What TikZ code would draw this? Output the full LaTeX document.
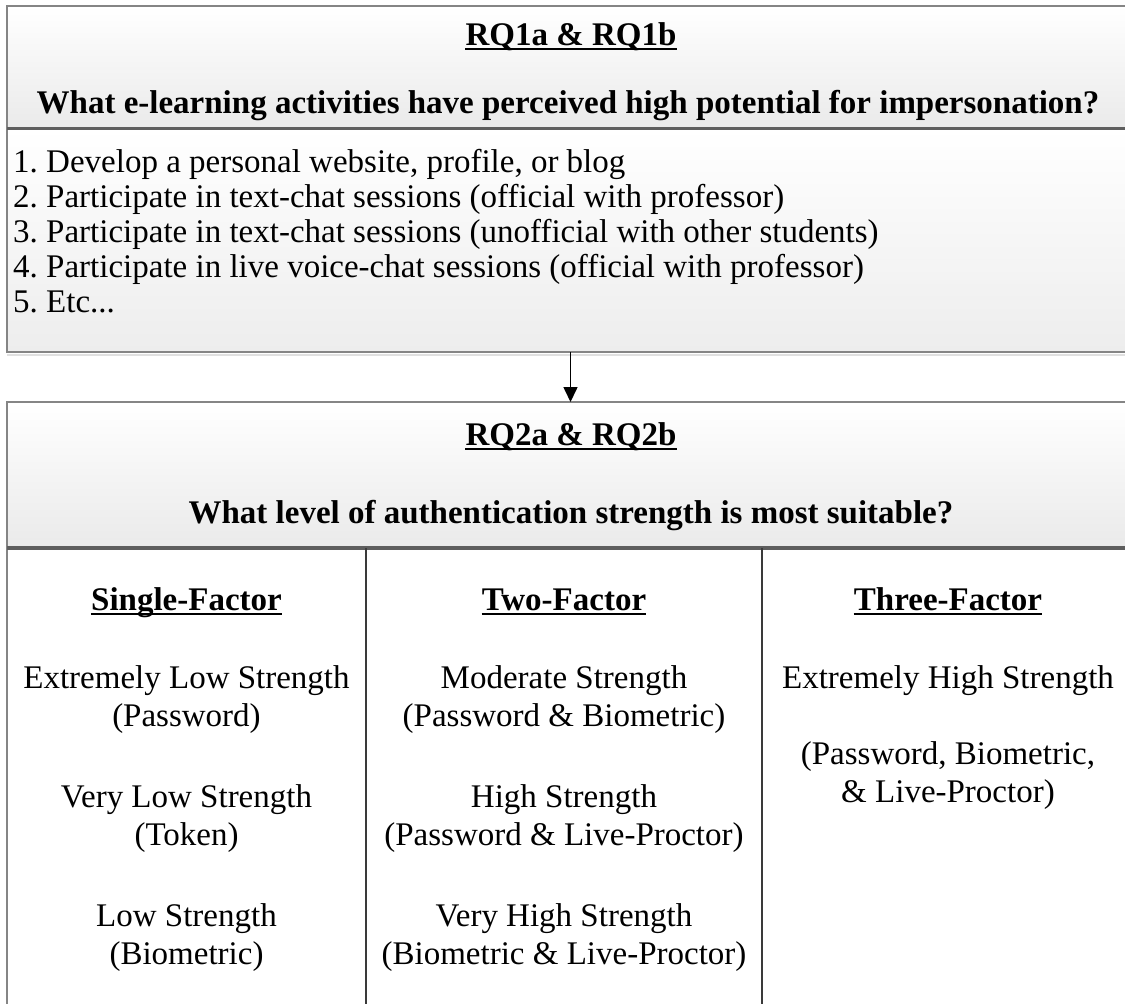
\documentclass[tikz,border=0pt]{standalone}
\usepackage{fontspec}
\setmainfont{Liberation Serif}
\usetikzlibrary{arrows.meta}
\frenchspacing
\definecolor{edge}{HTML}{858585}
\definecolor{sep}{HTML}{5E5E5E}
\definecolor{divider}{HTML}{3A3A3A}
\definecolor{hdrbot}{HTML}{EAEAEA}
\definecolor{listbot}{HTML}{EDEDED}
\tikzset{
  txt/.style={inner sep=0pt, anchor=base, font=\fontsize{33}{36}\selectfont},
  ttl/.style={txt, font=\fontsize{33}{36}\selectfont\bfseries},
  lst/.style={txt, anchor=base west},
  panel/.style={anchor=north west, inner sep=0pt, outer sep=0pt},
  frame/.style={draw=edge, line width=2.2pt},
  sepline/.style={draw=sep, line width=3pt},
  colline/.style={draw=divider, line width=2pt},
  uline/.style={line width=2pt},
  flow/.style={-{Triangle[length=15pt,width=14pt]}, line width=1.6pt},
}
\newcommand{\ulnode}[1]{\draw[uline] ([yshift=-4pt]#1.base west) -- ([yshift=-4pt]#1.base east);}
\begin{document}
\begin{tikzpicture}[x=1pt,y=-1pt]
\useasboundingbox (0,0) rectangle (1125,1004);
\clip (0,0) rectangle (1125,1004);
% ---------- top box ----------
\node[panel, top color=white, bottom color=hdrbot, minimum width=1127pt, minimum height=122pt] (hdr1) at (7,6) {};
\node[panel, top color=white, bottom color=listbot, minimum width=1127pt, minimum height=224pt] (lst1) at (7,128) {};
\node[panel, frame, minimum width=1127pt, minimum height=346pt] (box1) at (7,6) {};
\draw[sepline] (hdr1.south west) -- (hdr1.south east);
\draw[black!12, line width=2pt] ([yshift=-3pt]box1.south west) -- ([yshift=-3pt]box1.south east);
\node[ttl] (t1) at (571,45) {RQ1a \& RQ1b};
\ulnode{t1}
\node[ttl] (q1) at (568,113) {What e-learning activities have perceived high potential for impersonation?};
\node[lst] (l1) at (13,172) {1. Develop a personal website, profile, or blog};
\node[lst] (l2) at (13,207) {2. Participate in text-chat sessions (official with professor)};
\node[lst] (l3) at (13,242) {3. Participate in text-chat sessions (unofficial with other students)};
\node[lst] (l4) at (13,277) {4. Participate in live voice-chat sessions (official with professor)};
\node[lst] (l5) at (13,312) {5. Etc...};
% ---------- bottom box ----------
\node[panel, top color=white, bottom color=hdrbot, minimum width=1127pt, minimum height=146pt] (hdr2) at (7,402) {};
\node[panel, fill=white, minimum width=1127pt, minimum height=470pt] (body2) at (7,548) {};
\node[panel, frame, minimum width=1127pt, minimum height=620pt] (box2) at (7,402) {};
\draw[sepline, line width=4pt] (hdr2.south west) -- (hdr2.south east);
\coordinate (d1) at (366,548);
\coordinate (d2) at (762,548);
\draw[colline] (d1) -- (366,1010);
\draw[colline] (d2) -- (762,1010);
\node[ttl] (t2) at (571,445) {RQ2a \& RQ2b};
\ulnode{t2}
\node[ttl] (q2) at (571,523) {What level of authentication strength is most suitable?};
% column 1
\node[ttl] (c1) at (186.5,610) {Single-Factor};
\ulnode{c1}
\node[txt] (c1a) at (186.5,688) {Extremely Low Strength};
\node[txt] (c1b) at (186.5,726) {(Password)};
\node[txt] (c1c) at (186.5,807) {Very Low Strength};
\node[txt] (c1d) at (186.5,845) {(Token)};
\node[txt] (c1e) at (186.5,926) {Low Strength};
\node[txt] (c1f) at (186.5,964) {(Biometric)};
% column 2
\node[ttl] (c2) at (564,610) {Two-Factor};
\ulnode{c2}
\node[txt] (c2a) at (564,688) {Moderate Strength};
\node[txt] (c2b) at (564,726) {(Password \& Biometric)};
\node[txt] (c2c) at (564,807) {High Strength};
\node[txt] (c2d) at (564,845) {(Password \& Live-Proctor)};
\node[txt] (c2e) at (564,926) {Very High Strength};
\node[txt] (c2f) at (564,964) {(Biometric \& Live-Proctor)};
% column 3
\node[ttl] (c3) at (948,610) {Three-Factor};
\ulnode{c3}
\node[txt] (c3a) at (948,688) {Extremely High Strength};
\node[txt] (c3b) at (948,764) {(Password, Biometric,};
\node[txt] (c3c) at (948,802) {\& Live-Proctor)};
% ---------- connector ----------
\draw[flow] (box1.south) -- (box2.north);
\end{tikzpicture}
\end{document}
